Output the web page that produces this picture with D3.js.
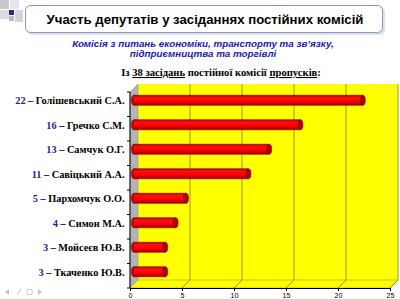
<!DOCTYPE html>
<html><head><meta charset="utf-8">
<script src="https://cdn.jsdelivr.net/npm/d3@7"></script>
<style>html,body{margin:0;padding:0;background:#fff;}svg{display:block;}</style>
</head><body>
<script>
const names = ["Голішевський С.А.","Гречко С.М.","Самчук О.Г.","Савіцький А.А.","Пархомчук О.О.","Симон М.А.","Мойсеєв Ю.В.","Ткаченко Ю.В."];
const values = [22,16,13,11,5,4,3,3];
const xTicks = [0,5,10,15,20,25];
const titleText = "Участь депутатів у засіданнях постійних комісій";
const subtitleLines = ["Комісія з питань економіки, транспорту та зв’язку,","підприємництва та торгівлі"];

(function(){
const W=400,H=299;
const svg=d3.select("body").append("svg").attr("width",W).attr("height",H);

// logo squares
const logo=svg.append("g");
logo.append("rect").attr("x",0).attr("y",0).attr("width",9).attr("height",9).attr("fill","#c8c8d0");
logo.append("rect").attr("x",10).attr("y",0).attr("width",9).attr("height",9).attr("fill","#e6e6ec");
logo.append("rect").attr("x",0).attr("y",10).attr("width",9).attr("height",9).attr("fill","#dcdce4");
logo.append("rect").attr("x",9).attr("y",10).attr("width",5).attr("height",5).attr("fill","#2a2a80");
logo.append("rect").attr("x",15).attr("y",10).attr("width",8).attr("height",12).attr("fill","#d4d4dc");
logo.append("rect").attr("x",9).attr("y",16).attr("width",5).attr("height",5).attr("fill","#b8b8c4");

// title box
svg.append("rect").attr("x",27).attr("y",7).attr("width",358).attr("height",28).attr("rx",5)
  .attr("fill","#c8ccd8").attr("opacity",0.6);
svg.append("rect").attr("x",25.5).attr("y",5.5).attr("width",357).attr("height",27).attr("rx",5)
  .attr("fill","#fff").attr("stroke","#8c98b8").attr("stroke-width",1);
svg.append("text").attr("x",205).attr("y",23.5).attr("text-anchor","middle")
  .attr("font-family","Liberation Sans, Arial, sans-serif").attr("font-weight","bold").attr("font-size",13.2)
  .attr("fill","#000").text(titleText);

// subtitle
subtitleLines.forEach((t,i)=>{
  svg.append("text").attr("x",203).attr("y",47+i*9.5).attr("text-anchor","middle")
    .attr("font-family","Liberation Sans, Arial, sans-serif").attr("font-weight","bold").attr("font-style","italic")
    .attr("font-size",9.8).attr("fill","#1a1ab4").text(t);
});

// heading line with underlines
const head=svg.append("text").attr("x",221).attr("y",76).attr("text-anchor","middle")
  .attr("font-family","Liberation Serif, Times New Roman, serif").attr("font-weight","bold").attr("font-size",10.6).attr("fill","#000");
head.append("tspan").text("Із ");
head.append("tspan").attr("text-decoration","underline").text("38 засідань");
head.append("tspan").text(" постійної комісії ");
head.append("tspan").attr("text-decoration","underline").text("пропусків");
head.append("tspan").text(":");

// chart
const x=d3.scaleLinear().domain([0,25]).range([130,390]);
const y=d3.scaleBand().domain(names).range([92,288]);
const dx=8,dy=8;
const yTop=92, yBot=288;

// back wall
svg.append("rect").attr("x",x(0)+dx).attr("y",yTop-dy).attr("width",x(25)-x(0)).attr("height",yBot-yTop)
  .attr("fill","#ffff00");
// side wall
svg.append("polygon").attr("points",[[x(0),yTop],[x(0)+dx,yTop-dy],[x(0)+dx,yBot-dy],[x(0),yBot]].join(" "))
  .attr("fill","#b4b4b4").attr("stroke","#8a8a8a").attr("stroke-width",0.5);
// floor
svg.append("polygon").attr("points",[[x(0),yBot],[x(0)+dx,yBot-dy],[x(25)+dx,yBot-dy],[x(25),yBot]].join(" "))
  .attr("fill","#ffff00").attr("stroke","#a0a040").attr("stroke-width",0.6);
// gridlines
xTicks.filter(t=>t>0).forEach(t=>{
  svg.append("polyline").attr("points",[[x(t)+dx,yTop-dy],[x(t)+dx,yBot-dy],[x(t),yBot]].join(" "))
    .attr("fill","none").attr("stroke","#7a7a2a").attr("stroke-width",0.8);
});

// bars (cylinders)
const defs=svg.append("defs");
const g1=defs.append("linearGradient").attr("id","cyl").attr("x1",0).attr("y1",0).attr("x2",0).attr("y2",1);
g1.append("stop").attr("offset","0%").attr("stop-color","#b00000");
g1.append("stop").attr("offset","25%").attr("stop-color","#ff1010");
g1.append("stop").attr("offset","60%").attr("stop-color","#ff0000");
g1.append("stop").attr("offset","100%").attr("stop-color","#a00000");
const bh=10, off=4;
names.forEach((n,i)=>{
  const cy=y(n)+y.bandwidth()/2-off;
  const x0=x(0)+off, x1=x(values[i])+off;
  const g=svg.append("g");
  g.append("ellipse").attr("cx",x0).attr("cy",cy).attr("rx",2.5).attr("ry",bh/2).attr("fill","#d00000").attr("stroke","#700000").attr("stroke-width",0.6);
  g.append("rect").attr("x",x0).attr("y",cy-bh/2).attr("width",x1-x0).attr("height",bh).attr("fill","url(#cyl)");
  g.append("line").attr("x1",x0).attr("x2",x1).attr("y1",cy-bh/2).attr("y2",cy-bh/2).attr("stroke","#700000").attr("stroke-width",0.6);
  g.append("line").attr("x1",x0).attr("x2",x1).attr("y1",cy+bh/2).attr("y2",cy+bh/2).attr("stroke","#700000").attr("stroke-width",0.6);
  g.append("ellipse").attr("cx",x1).attr("cy",cy).attr("rx",2.5).attr("ry",bh/2).attr("fill","#b00000").attr("stroke","#700000").attr("stroke-width",0.6);
});

// axes
const ax=svg.append("g").attr("transform",`translate(0,${yBot})`)
  .call(d3.axisBottom(x).tickValues(xTicks).tickSize(3).tickSizeOuter(0));
ax.select(".domain").attr("stroke","#000");
ax.selectAll("text").attr("font-family","Liberation Sans, Arial, sans-serif").attr("font-size",7).attr("dy","0.55em");
svg.append("line").attr("x1",x(0)).attr("x2",x(0)).attr("y1",yTop).attr("y2",yBot).attr("stroke","#000");
d3.range(names.length+1).forEach(i=>{
  const yy=yTop+i*y.step();
  svg.append("line").attr("x1",x(0)-3).attr("x2",x(0)).attr("y1",yy).attr("y2",yy).attr("stroke","#000");
});

// labels
names.forEach((n,i)=>{
  const t=svg.append("text").attr("x",124.5).attr("y",y(n)+y.bandwidth()/2-off+4)
    .attr("text-anchor","end").attr("font-family","Liberation Serif, Times New Roman, serif")
    .attr("font-weight","bold").attr("font-size",10.3);
  t.append("tspan").attr("fill","#2222a0").text(values[i]);
  t.append("tspan").attr("fill","#000").text(" – "+n);
});

// nav icons (small gray shapes)
const nav=svg.append("g").attr("fill","#c4c4c4").attr("stroke","#c4c4c4");
nav.append("polygon").attr("points","5,292 9,289 9,295").attr("stroke","none");
nav.append("line").attr("x1",17).attr("y1",295).attr("x2",21).attr("y2",289).attr("stroke-width",1);
nav.append("rect").attr("x",27).attr("y",289.5).attr("width",5).attr("height",5).attr("fill","none").attr("stroke-width",0.8);
nav.append("polygon").attr("points","42,292 38,289 38,295").attr("stroke","none");
})();
</script>
</body></html>
